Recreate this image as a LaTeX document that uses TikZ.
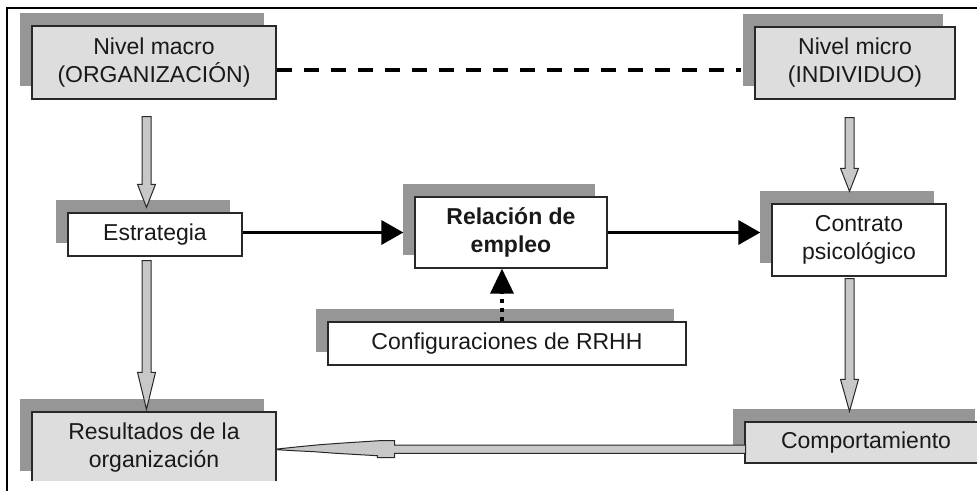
\documentclass[tikz,border=0pt]{standalone}
\usepackage{fontspec}
\setmainfont{Liberation Sans}
\usetikzlibrary{shadows,arrows.meta,calc}
\definecolor{boxgray}{RGB}{221,221,221}
\definecolor{shadowgray}{RGB}{150,150,150}
\definecolor{arrgray}{RGB}{200,200,200}
\definecolor{edgecol}{RGB}{40,40,40}
\tikzset{
  box/.style={draw=edgecol, line width=1.3pt, inner sep=0pt, align=center,
    font=\fontsize{23}{28}\selectfont, text=black!90,
    general shadow={fill=shadowgray, shadow xshift=-12.5pt, shadow yshift=13.5pt}},
  graybox/.style={box, fill=boxgray},
  whitebox/.style={box, fill=white},
  blockarrow/.style={draw=edgecol, line width=1pt, fill=arrgray, line join=miter},
  blackarrow/.style={draw=black, line width=3.5pt, -{Triangle[length=22pt,width=24pt]}},
  dotarrow/.style={draw=black, line width=3.5pt, dash pattern=on 4pt off 5pt, -{Triangle[length=25pt,width=23pt]}},
  dashline/.style={draw=black, line width=4pt, dash pattern=on 15pt off 12pt},
  bandarrow/.style={draw=edgecol, line width=1pt, fill=arrgray, line join=miter},
  frameline/.style={draw=black, line width=1.5pt}
}
\newcommand\blockarr[3]{%
  \draw[blockarrow] let \p1=#1, \p2=#2 in
  (\x1-4.5pt,\y1) -- (\x1+4.5pt,\y1) -- (\x1+4.5pt,\y2+#3) -- (\x1+9pt,\y2+#3)
  -- (\x1,\y2) -- (\x1-9pt,\y2+#3) -- (\x1-4.5pt,\y2+#3) -- cycle;}
\begin{document}
\begin{tikzpicture}[x=1pt,y=-1pt]
\clip (0,0) rectangle (977,490);
\fill[white] (0,0) rectangle (977,490);
\draw[frameline] (995,8) -- (7,8) -- (7,500);

\node[graybox, minimum width=244pt, minimum height=73pt] (macro) at (154,62.5) {Nivel macro\\(ORGANIZACIÓN)};
\node[graybox, minimum width=200pt, minimum height=72pt] (micro) at (855,63) {Nivel micro\\(INDIVIDUO)};
\node[whitebox, minimum width=174pt, minimum height=43pt] (est) at (155,234.5) {Estrategia};
\node[whitebox, minimum width=192pt, minimum height=71pt, font=\fontsize{23}{28}\selectfont\bfseries] (rel) at (511,232.5) {Relación de\\empleo};
\node[whitebox, minimum width=174pt, minimum height=72pt] (con) at (859,240) {Contrato\\psicológico};
\node[whitebox, minimum width=358pt, minimum height=43pt] (cfg) at (507,343.5) {Configuraciones de RRHH};
\begin{scope}
  \clip (0,0) rectangle (977,480);
  \node[graybox, minimum width=244pt, minimum height=72pt] (res) at (154,448) {Resultados de la\\organización};
\end{scope}
\node[graybox, minimum width=242pt, minimum height=41pt] (com) at (866,442.5) {Comportamiento};

% dashed link
\draw[dashline] ($(macro.east)+(0,7.5)$) -- ($(micro.west)+(-13,7)$);

% block arrows
\blockarr{($(macro.south)+(-7.5,17)$)}{($(est.north)+(-8.5,-5)$)}{23pt}
\blockarr{($(est.south)+(-8.5,4)$)}{($(res.north)+(-7.5,-2)$)}{37pt}
\blockarr{($(micro.south)+(-5.5,18)$)}{($(con.north)+(-9.5,-12)$)}{23pt}
\blockarr{($(con.south)+(-9.5,2)$)}{($(com.north)+(-16.5,-10)$)}{32pt}

% black arrows
\coordinate (relL) at ($(rel.west)+(-11,0)$);
\coordinate (conL) at ($(con.west)+(-11,0)$);
\draw[blackarrow] (est.east |- rel.west) -- (relL);
\draw[blackarrow] (rel.east) -- (rel.east -| conL);

% dotted arrow
\coordinate (dt) at ($(rel.south)+(-9,0)$);
\draw[dotarrow] (dt |- cfg.north) -- (dt);

% band arrow from Comportamiento to Resultados
\begin{scope}[shift={(res.east)}]
  \draw[bandarrow] (0.7,1) -- (22.3,-1.3) -- (43.3,-3.3) -- (62.3,-4.7) -- (82.3,-6)
    -- (102.3,-7.3) -- (118,-7.3) -- (118,-3) -- (469,-3) -- (469,5.3) -- (118,5.3)
    -- (118,9.7) -- (100.7,9.7) -- (100.7,7.7) -- (59,5.3) -- (37.3,3.7) -- (17.3,2.7)
    -- (0.7,1.7) -- cycle;
\end{scope}
\end{tikzpicture}
\end{document}
